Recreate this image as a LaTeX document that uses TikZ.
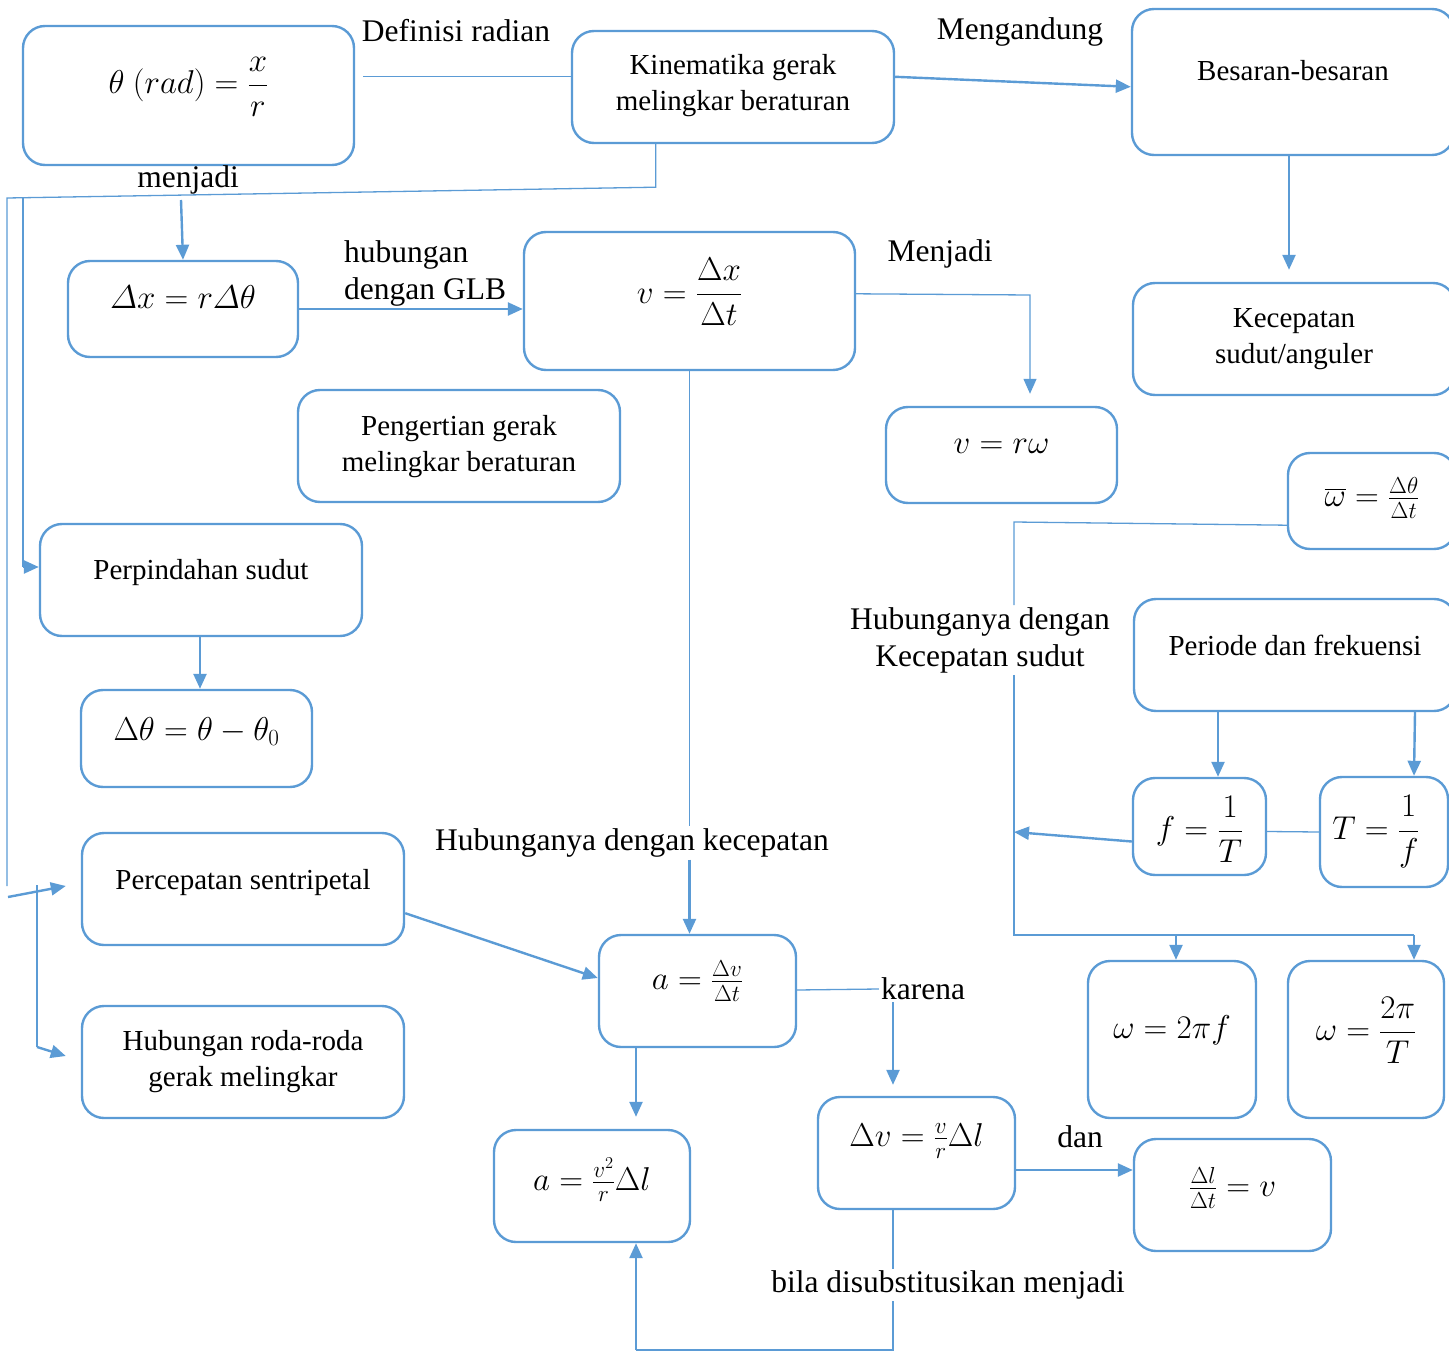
\RequirePackage{fix-cm}
\documentclass[tikz,border=0pt]{standalone}
\usepackage{amsmath}
\usepackage[no-math]{fontspec}
\setmainfont{Liberation Serif}
\usetikzlibrary{arrows.meta,calc}
\definecolor{bl}{HTML}{5B9BD5}
\tikzset{
  box/.style={draw=bl, line width=2.4pt, rounded corners=22pt, inner sep=0pt},
  txt/.style={font=\fontsize{29}{36}\selectfont, align=center, inner sep=0pt},
  mth/.style={font=\fontsize{33}{38}\selectfont, inner sep=0pt},
  lab/.style={font=\fontsize{31.5}{37}\selectfont, align=center, inner sep=2pt},
  ln/.style={draw=bl, line width=1.3pt},
  arr/.style={draw=bl, line width=2.4pt, -{Triangle[length=15pt,width=13pt]}},
}
\begin{document}
\begin{tikzpicture}[x=1pt,y=-1pt]
\path[use as bounding box] (0,0) rectangle (1449,1351);
\clip (0,0) rectangle (1449,1351);

% boxes
\node[box, minimum width=331pt, minimum height=139pt, label={[mth,yshift=9pt]center:{$\theta\ (rad) = \dfrac{x}{r}$}}] (theta) at (188.5,95.5) {};
\node[box, minimum width=322pt, minimum height=112pt, label={[txt,yshift=1pt]center:{Kinematika gerak\\melingkar beraturan}}] (kin) at (733,87) {};
\node[box, minimum width=322pt, minimum height=146pt, label={[txt,yshift=11pt]center:{Besaran-besaran}}] (bes) at (1293,82) {};
\node[box, minimum width=230pt, minimum height=96pt, label={[mth,yshift=12pt]center:{$\varDelta x = r\varDelta\theta$}}] (dx) at (183,309) {};
\node[box, minimum width=331pt, minimum height=138pt, label={[mth,yshift=9pt]center:{$v = \dfrac{\Delta x}{\Delta t}$}}] (v) at (689.5,301) {};
\node[box, minimum width=322pt, minimum height=112pt, label={[txt,yshift=0pt]center:{Kecepatan\\sudut/anguler}}] (kec) at (1294,339) {};
\node[box, minimum width=322pt, minimum height=112pt, label={[txt,yshift=-1pt]center:{Pengertian gerak\\melingkar beraturan}}] (peng) at (459,446) {};
\node[box, minimum width=231pt, minimum height=96pt, label={[mth,yshift=9pt]center:{$v = r\omega$}}] (vrw) at (1001.5,455) {};
\node[box, minimum width=168pt, minimum height=96pt, label={[mth,yshift=3pt]center:{$\overline{\omega} = \frac{\Delta\theta}{\Delta t}$}}] (wbar) at (1372,501) {};
\node[box, minimum width=322pt, minimum height=112pt, label={[txt,yshift=7pt]center:{Perpindahan sudut}}] (perp) at (201,580) {};
\node[box, minimum width=322pt, minimum height=112pt, label={[txt,yshift=10pt]center:{Periode dan frekuensi}}] (per) at (1295,655) {};
\node[box, minimum width=231pt, minimum height=97pt, label={[mth,yshift=7pt]center:{$\Delta\theta = \theta - \theta_0$}}] (dth) at (196.5,738.5) {};
\node[box, minimum width=133pt, minimum height=97pt, label={[mth,yshift=-3pt]center:{$f = \dfrac{1}{T}$}}] (f) at (1199.5,826.5) {};
\node[box, minimum width=128pt, minimum height=110pt, label={[mth,xshift=-8pt]center:{$T = \dfrac{1}{f}$}}] (T) at (1384,832) {};
\node[box, minimum width=322pt, minimum height=112pt, label={[txt,yshift=6pt]center:{Percepatan sentripetal}}] (perc) at (243,889) {};
\node[box, minimum width=197pt, minimum height=112pt, label={[mth,yshift=10pt]center:{$a = \frac{\Delta v}{\Delta t}$}}] (a) at (697.5,991) {};
\node[box, minimum width=168pt, minimum height=157pt, label={[mth,yshift=9pt]center:{$\omega = 2\pi f$}}] (w1) at (1172,1039.5) {};
\node[box, minimum width=156pt, minimum height=157pt, label={[mth,yshift=9pt]center:{$\omega = \dfrac{2\pi}{T}$}}] (w2) at (1366,1039.5) {};
\node[box, minimum width=322pt, minimum height=112pt, label={[txt,yshift=0pt]center:{Hubungan roda-roda\\gerak melingkar}}] (hub) at (243,1062) {};
\node[box, minimum width=196pt, minimum height=112pt, label={[mth,yshift=6pt]center:{$a = \frac{v^2}{r}\Delta l$}}] (a2) at (592,1186) {};
\node[box, minimum width=197pt, minimum height=112pt, label={[mth,yshift=12pt]center:{$\Delta v = \frac{v}{r}\Delta l$}}] (dv) at (916.5,1153) {};
\node[box, minimum width=197pt, minimum height=112pt, label={[mth,yshift=7pt]center:{$\frac{\Delta l}{\Delta t} = v$}}] (dl) at (1232.5,1195) {};

% labels
\node[lab] (defr) at (456,31) {Definisi radian};
\node[lab] (meng) at (1020,32) {Mengandung};
\node[lab] (menj) at (188,180) {menjadi};
\node[lab, align=left, anchor=west] (hglb) at (342,273) {hubungan\\dengan GLB};
\node[lab] (Menj) at (940,254) {Menjadi};
\node[lab] (hks) at (980,640) {Hubunganya dengan\\Kecepatan sudut};
\node[lab] (hk) at (632,843) {Hubunganya dengan kecepatan};
\node[lab] (karena) at (923,989) {karena};
\node[lab] (dan) at (1080,1137) {dan};
\node[lab] (bila) at (948,1285) {bila disubstitusikan menjadi};

% connectors
\draw[ln] ($(theta.north east)+(8,52)$) -- ($(kin.north west)+(0,47)$);
\draw[arr] ($(kin.north east)+(0,47)$) -- ($(bes.north west)+(0,79)$);

\coordinate (k1) at ($(kin.south west)+(85,0)$);
\draw[ln] (k1) -- ++(0,43) -- (7,198) -- (7,886);
\draw[ln] (23,198) -- (23,567);
\draw[arr] (23,567) -- (perp.west |- 0,567);
\draw[arr] (181,200) -- (dx.north);
\draw[arr] (8,897) -- ($(perc.west)+(-15,-3)$);
\draw[ln] (37,885) -- (37,1047);
\draw[arr] (37,1047) -- ($(hub.west)+(-15,-6)$);

\draw[arr] (perp.south -| 200,0) -- (dth.north -| 200,0);

\draw[arr] (dx.east) -- (v.west |- dx.east);
\draw[ln, -{Triangle[length=15pt,width=13pt]}, shorten >=12pt] ($(v.north east)+(0,63)$) -- (1030,295) -- (vrw.north -| 1030,0);

\draw[ln] (v.south) -- (v.south |- hk.north);
\draw[arr] (v.south |- hk.south) -- (v.south |- a.north);

\draw[arr, shorten >=12pt] (bes.south -| 1289,0) -- (kec.north -| 1289,0);

\draw[ln] ($(wbar.south west)+(0,-25)$) -- (1014,522) -- (hks.north -| 1014,0);
\draw[ln] (hks.south -| 1014,0) -- (1014,935) -- (1414,935);
\draw[arr] (1176,935) -- (w1.north -| 1176,0);
\draw[arr] (1414,935) -- (w2.north -| 1414,0);

\draw[arr] ($(f.west)+(0,15)$) -- (1014,832);
\draw[ln] ($(f.east)+(0,5)$) -- (T.west);
\draw[arr] (per.south -| 1218,0) -- (f.north -| 1218,0);
\draw[arr] (per.south -| 1415,0) -- (T.north -| 1414,0);

\draw[arr] ($(perc.south east)+(0,-33)$) -- ($(a.west)+(0,-13)$);
\draw[ln] ($(a.east)+(0,-1)$) -- (karena.west);
\draw[arr, shorten >=11pt] (karena.south -| 893,0) -- (dv.north -| 893,0);
\draw[arr, shorten >=12pt] (a.south -| 636,0) -- (a2.north -| 636,0);
\draw[arr] ($(dv.east)+(0,17)$) -- ($(dl.west)+(0,-25)$);

\draw[ln] (dv.south -| 893,0) -- (bila.north -| 893,0);
\draw[ln] (bila.south -| 893,0) -- (893,1350) -- (636,1350);
\draw[arr] (636,1350) -- (a2.south -| 636,0);
\end{tikzpicture}
\end{document}
